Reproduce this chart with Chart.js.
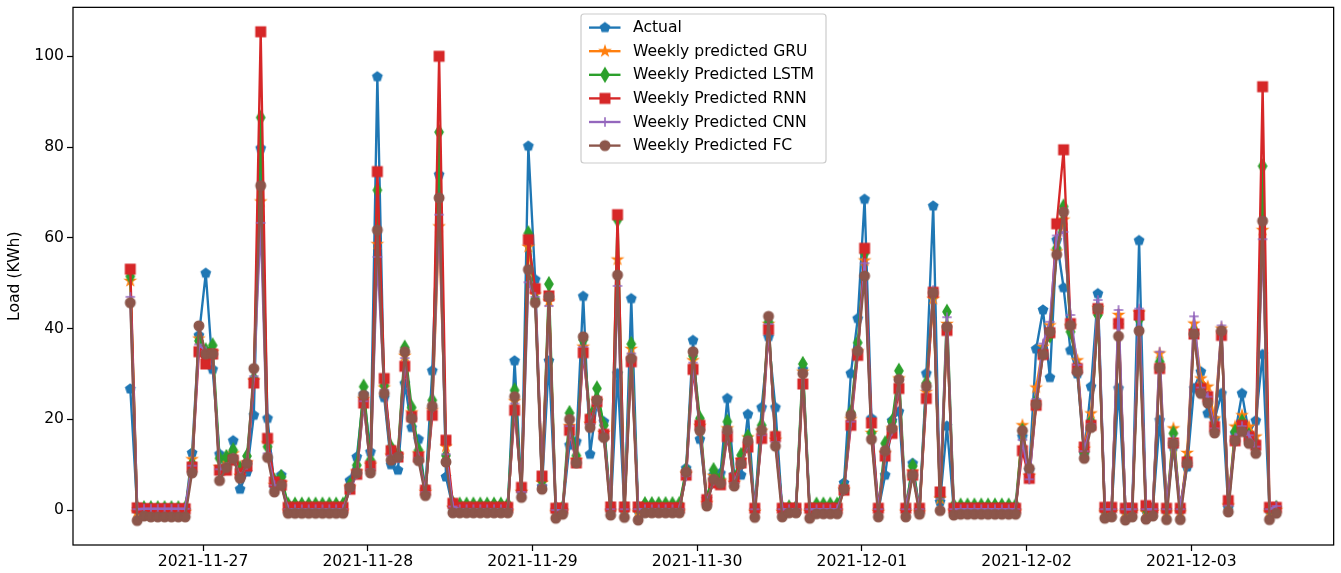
<!DOCTYPE html>
<html>
<head>
<meta charset="utf-8">
<script src="https://cdn.jsdelivr.net/npm/chart.js@4.4.1/dist/chart.umd.min.js"></script>
<style>
html,body{margin:0;padding:0;background:#ffffff;}
#wrap{width:1341px;height:573px;}
</style>
</head>
<body>
<div id="wrap"><canvas id="c" width="1341" height="573"></canvas></div>
<script>
// ---- data (hourly samples) ----
const firstHour = -10.6; // first sample, in hours after 2021-11-27 00:00
const seriesNames = ['Actual','Weekly predicted GRU','Weekly Predicted LSTM','Weekly Predicted RNN','Weekly Predicted CNN','Weekly Predicted FC'];
const tickHours = [0,24,48,72,96,120,144];
const tickLabels = ['2021-11-27','2021-11-28','2021-11-29','2021-11-30','2021-12-01','2021-12-02','2021-12-03'];
const yTicks = [0,20,40,60,80,100];
const yTitle = 'Load (KWh)';

const actual = [
26.7,0.2,0,0,0,0,0,0,0,12.6,
38.5,52.2,31.0,12.3,10.4,15.3,4.6,8.4,20.9,79.7,
20.2,5.0,7.7,0,0,0,0,0,0,0,
0,0,6.5,11.7,25.5,12.8,95.5,24.8,10.0,8.8,
27.9,18.2,15.6,4.5,30.7,73.9,7.3,0.5,0,0,
0,0,0,0,0,0,32.9,4.0,80.2,50.8,
5.2,32.9,0,0,14.3,15.1,47.1,12.3,24.0,19.5,
0,30.1,0,46.6,0,0,0,0,0,0,
0,9.2,37.4,15.6,2.5,7.7,8.1,24.6,7.7,7.7,
21.1,0,22.6,38.2,22.6,0,0,0,31.0,0,
0,0,0,0,6.0,30.1,42.2,68.5,20.2,0,
7.7,19.7,21.7,0,10.3,0,30.1,67.0,1.8,18.5,
0,0,0,0,0,0,0,0,0,0,
16.2,8.8,35.5,44.1,29.2,59.5,49.0,35.2,30.0,12.5,
27.2,47.7,0,0,26.8,0,0,59.4,0,0,
19.8,0,13.9,0,9.5,26.8,30.5,21.3,20.0,25.7,
0.5,16.9,25.7,16.9,19.7,34.3,0,0.5];

const gru = [
50.5,-0.5,-0.4,-0.4,-0.4,-0.4,-0.4,-0.4,-0.4,11.2,
37.8,34.0,34.8,9.5,10.5,12.5,7.5,10.5,28.5,68.0,
14.7,5.5,6.0,-0.3,-0.3,-0.3,-0.3,-0.3,-0.3,-0.3,
-0.3,-0.3,5.0,8.5,24.5,10.0,58.6,27.0,12.0,12.0,
34.0,21.5,12.5,4.0,22.0,62.5,14.0,0.5,-0.3,-0.3,
-0.3,-0.3,-0.3,-0.3,-0.3,-0.3,24.0,4.0,58.0,47.5,
6.0,46.0,-0.5,-0.3,18.5,11.0,36.0,19.0,24.0,17.0,
-0.3,55.2,-0.3,35.5,-0.5,-0.3,-0.3,-0.3,-0.3,-0.3,
-0.3,8.0,33.0,18.5,1.5,7.5,6.5,18.0,6.0,11.0,
16.0,-0.4,17.5,41.0,15.5,-0.4,-0.3,-0.3,30.5,-0.4,
-0.3,-0.3,-0.3,-0.3,4.5,20.0,35.0,55.0,17.0,-0.4,
12.5,18.0,29.0,-0.4,8.5,-0.5,26.0,46.5,2.5,41.0,
-0.3,-0.3,-0.3,-0.3,-0.3,-0.3,-0.3,-0.3,-0.3,-0.3,
18.7,7.5,27.0,36.0,40.7,57.0,64.0,40.5,33.0,13.5,
21.3,44.5,-0.5,-0.4,43.0,-0.5,-0.4,43.5,-0.5,-0.4,
34.5,-0.5,18.0,-0.5,12.6,41.1,29.0,27.2,20.2,40.0,
1.0,18.4,20.9,18.4,16.2,61.7,-0.5,0.0];

const lstm = [
51.5,0.5,0.4,0.4,0.4,0.4,0.4,0.4,0.4,10.2,
37.3,35.2,36.3,11.4,11.7,13.2,9.2,11.9,29.0,86.5,
14.0,6.5,7.3,1.2,1.2,1.2,1.2,1.2,1.2,1.2,
1.2,1.2,5.5,9.9,27.2,11.0,70.5,27.5,13.8,12.5,
35.8,22.6,13.2,4.8,24.2,83.3,12.0,1.5,1.2,1.2,
1.2,1.2,1.2,1.2,1.2,1.2,26.4,4.5,61.0,46.5,
6.5,49.8,0.5,0.5,21.4,12.0,37.5,20.6,26.8,18.7,
0.8,64.0,0.8,36.6,0.5,1.3,1.3,1.3,1.3,1.3,
1.3,8.8,34.0,20.2,2.5,8.8,7.0,19.5,7.0,12.1,
16.2,0.5,18.7,41.5,16.5,0.5,0.6,0.6,32.2,0.5,
1.2,1.2,1.2,1.2,5.0,21.5,36.9,56.6,17.0,0.5,
14.7,19.5,30.7,0.5,9.7,0.3,28.0,47.5,3.0,43.7,
1.0,1.0,1.0,1.0,1.0,1.0,1.0,1.0,1.0,1.0,
17.5,7.5,24.0,35.0,38.5,57.7,66.9,39.3,31.5,12.5,
19.5,43.0,0.3,0.3,41.0,0.3,0.3,42.0,0.3,0.3,
32.7,0.3,16.9,0.3,11.0,39.5,27.0,24.5,18.5,39.0,
1.5,17.3,19.5,16.5,14.5,75.8,0.3,0.5];

const rnn = [
53.1,0.5,0.3,0.3,0.3,0.3,0.3,0.3,0.3,9.5,
34.9,32.2,34.4,8.8,8.8,11.0,8.1,9.7,28.0,105.4,
15.8,6.2,5.5,0.6,0.6,0.6,0.6,0.6,0.6,0.6,
0.6,0.6,4.6,7.9,23.6,9.7,74.6,29.0,13.1,11.7,
31.7,20.6,11.7,4.4,20.9,100.0,15.4,1.5,0.6,0.6,
0.6,0.6,0.6,0.6,0.6,0.6,22.0,5.0,59.6,48.8,
7.5,47.2,0.4,0.4,17.6,10.4,34.7,20.0,23.9,16.7,
0.7,65.1,0.7,32.7,0.7,0.5,0.5,0.5,0.5,0.5,
0.5,7.7,31.0,18.7,2.3,6.0,5.6,16.2,7.0,10.4,
13.9,0.4,15.8,39.8,16.2,0.4,0.4,0.4,27.8,0.4,
0.4,0.4,0.4,0.4,4.4,18.7,34.1,57.7,19.2,0.4,
11.9,16.9,26.8,0.4,7.7,0.4,24.6,48.0,4.0,39.6,
0.4,0.4,0.4,0.4,0.4,0.4,0.4,0.4,0.4,0.4,
13.1,7.0,23.1,34.3,39.1,63.1,79.4,41.1,31.2,13.9,
18.7,44.4,0.6,0.6,41.1,0.4,0.4,43.0,1.0,0.4,
31.2,0.4,14.8,0.4,10.6,38.8,26.8,25.0,18.4,38.5,
2.1,15.3,18.7,16.2,14.3,93.3,0.6,0.6];

const cnn = [
47.0,0.2,0.3,0.3,0.3,0.3,0.3,0.3,0.3,9.8,
36.5,35.0,34.5,9.0,9.5,11.5,7.3,10.0,29.5,63.3,
12.5,5.5,5.5,0.2,0.2,0.2,0.2,0.2,0.2,0.2,
0.2,0.2,4.5,8.0,24.0,9.0,55.8,26.5,12.0,11.5,
33.5,20.5,11.5,4.0,22.5,65.1,12.3,0.8,0.2,0.2,
0.2,0.2,0.2,0.2,0.2,0.2,23.5,4.0,50.2,47.0,
5.5,45.0,0.0,0.0,18.5,10.5,36.0,19.0,23.5,16.5,
0.2,49.4,0.2,34.5,0.2,0.2,0.2,0.2,0.2,0.2,
0.2,7.5,32.5,18.0,1.5,6.5,6.0,17.0,6.0,10.0,
15.0,0.2,16.5,41.0,15.0,0.2,0.2,0.2,30.0,0.2,
0.2,0.2,0.2,0.2,4.5,19.5,35.0,54.4,16.0,0.2,
12.5,17.5,28.5,0.2,8.0,0.2,26.5,48.5,2.5,42.5,
0.2,0.2,0.2,0.2,0.2,0.2,0.2,0.2,0.2,0.2,
15.5,6.8,24.5,36.7,41.5,60.5,61.3,43.0,32.0,13.0,
19.0,46.3,0.2,0.2,44.1,0.2,0.2,44.4,0.2,0.2,
34.9,0.2,15.5,0.2,10.5,42.7,27.0,25.0,18.0,40.7,
1.0,16.0,18.5,16.5,14.0,59.7,0.2,0.9];

const fc = [
45.7,-2.3,-1.3,-1.5,-1.5,-1.5,-1.5,-1.5,-1.5,8.2,
40.6,34.4,34.4,6.5,9.4,11.4,7.0,10.3,31.2,71.5,
11.6,4.0,5.5,-0.7,-0.7,-0.7,-0.7,-0.7,-0.7,-0.7,
-0.7,-0.7,5.0,8.2,25.3,8.2,61.7,25.7,11.0,11.7,
34.9,20.2,10.9,3.2,22.9,68.8,10.6,-0.6,-0.6,-0.6,
-0.6,-0.6,-0.6,-0.6,-0.6,-0.6,25.0,2.8,53.0,45.7,
4.6,47.0,-1.8,-0.9,20.0,10.4,38.2,18.2,24.2,16.0,
-1.1,51.8,-1.6,33.4,-2.2,-0.6,-0.6,-0.6,-0.6,-0.6,
-0.6,8.4,34.9,17.5,0.9,6.8,5.9,17.6,5.3,10.2,
15.3,-1.6,17.6,42.7,14.1,-1.5,-0.6,-0.6,30.1,-1.8,
-0.8,-0.8,-0.8,-0.8,4.6,20.9,35.1,51.6,15.6,-1.5,
13.1,18.0,28.8,-1.5,7.7,-0.9,27.3,47.9,-0.1,40.4,
-1.1,-0.9,-0.9,-0.9,-0.9,-0.9,-0.9,-0.9,-0.9,-0.9,
17.5,9.2,23.3,34.3,39.3,56.3,65.7,40.7,30.5,11.4,
18.2,44.4,-1.8,-1.5,38.3,-2.2,-1.5,39.5,-2.0,-1.3,
31.4,-2.1,14.7,-2.1,10.3,38.8,25.7,23.6,17.0,39.5,
-0.4,15.3,17.3,14.7,12.5,63.7,-2.1,-0.7];

// ---- styling ----
const colors = ['#1f77b4','#ff7f0e','#2ca02c','#d62728','#9467bd','#8c564b'];
const markerKinds = ['pentagon','star','thindiamond','square','plus','circle'];
const FONT_FAMILY = '"DejaVu Sans", sans-serif';
const FONT_SIZE = 15.6;
const MS = 9.4;       // marker size (px)
const MEW = 1.57;     // marker edge width
const LW = 2.35;      // line width

function makeMarker(kind, color) {
  const s = 22, c = document.createElement('canvas');
  c.width = s; c.height = s;
  const g = c.getContext('2d');
  const cx = s / 2, cy = s / 2;
  g.fillStyle = color; g.strokeStyle = color; g.lineWidth = MEW; g.lineJoin = 'miter';
  g.beginPath();
  if (kind === 'pentagon') {
    const R = MS / 2;
    for (let k = 0; k < 5; k++) {
      const a = -Math.PI / 2 + k * 2 * Math.PI / 5;
      const px = cx + R * Math.cos(a), py = cy + R * Math.sin(a);
      k ? g.lineTo(px, py) : g.moveTo(px, py);
    }
    g.closePath(); g.fill(); g.stroke();
  } else if (kind === 'star') {
    const R = MS / 2, r = R * 0.381966;
    for (let k = 0; k < 10; k++) {
      const a = -Math.PI / 2 + k * Math.PI / 5;
      const rr = k % 2 ? r : R;
      const px = cx + rr * Math.cos(a), py = cy + rr * Math.sin(a);
      k ? g.lineTo(px, py) : g.moveTo(px, py);
    }
    g.closePath(); g.fill(); g.stroke();
  } else if (kind === 'thindiamond') {
    const h = MS * Math.SQRT1_2, w = h * 0.6;
    g.moveTo(cx, cy - h); g.lineTo(cx + w, cy); g.lineTo(cx, cy + h); g.lineTo(cx - w, cy);
    g.closePath(); g.fill(); g.stroke();
  } else if (kind === 'square') {
    g.rect(cx - MS / 2, cy - MS / 2, MS, MS);
    g.fill(); g.stroke();
  } else if (kind === 'plus') {
    g.moveTo(cx - MS / 2, cy); g.lineTo(cx + MS / 2, cy);
    g.moveTo(cx, cy - MS / 2); g.lineTo(cx, cy + MS / 2);
    g.lineCap = 'butt'; g.stroke();
  } else {
    g.arc(cx, cy, MS / 2, 0, Math.PI * 2);
    g.fill(); g.stroke();
  }
  return c;
}
const markers = markerKinds.map((k, i) => makeMarker(k, colors[i]));

const allSeries = [actual, gru, lstm, rnn, cnn, fc];
const n = actual.length;
const xMin = firstHour - 0.05 * (n - 1);
const xMax = firstHour + (n - 1) * 1.05;
const allVals = allSeries.flat();
const vMin = Math.min(...allVals), vMax = Math.max(...allVals);
const yMin = vMin - 0.05 * (vMax - vMin), yMax = vMax + 0.05 * (vMax - vMin);

const datasets = allSeries.map((vals, s) => ({
  label: seriesNames[s],
  data: vals.map((v, i) => ({ x: firstHour + i, y: v })),
  borderColor: colors[s],
  backgroundColor: colors[s],
  borderWidth: LW,
  borderJoinStyle: 'round',
  borderCapStyle: 'butt',
  pointStyle: markers[s],
  pointRadius: 5,
  pointHoverRadius: 5,
  tension: 0,
  fill: false,
  order: allSeries.length - s
}));

const framePlugin = {
  id: 'frame',
  afterDraw(chart) {
    const { ctx, chartArea: a } = chart;
    ctx.save();
    ctx.strokeStyle = '#000'; ctx.lineWidth = 1.25;
    ctx.strokeRect(a.left, a.top, a.right - a.left, a.bottom - a.top);
    // legend
    const lx = 581, ly = 14, lw = 245, lh = 149, rad = 3;
    ctx.beginPath();
    ctx.moveTo(lx + rad, ly);
    ctx.arcTo(lx + lw, ly, lx + lw, ly + lh, rad);
    ctx.arcTo(lx + lw, ly + lh, lx, ly + lh, rad);
    ctx.arcTo(lx, ly + lh, lx, ly, rad);
    ctx.arcTo(lx, ly, lx + lw, ly, rad);
    ctx.closePath();
    ctx.fillStyle = 'rgba(255,255,255,0.8)'; ctx.fill();
    ctx.strokeStyle = '#cccccc'; ctx.lineWidth = 1.2; ctx.stroke();
    ctx.font = FONT_SIZE + 'px ' + FONT_FAMILY;
    ctx.textBaseline = 'middle'; ctx.textAlign = 'left';
    for (let s = 0; s < seriesNames.length; s++) {
      const yy = 27.6 + s * 23.6;
      ctx.beginPath();
      ctx.strokeStyle = colors[s]; ctx.lineWidth = LW;
      ctx.moveTo(589, yy); ctx.lineTo(620.5, yy); ctx.stroke();
      const m = markers[s];
      ctx.drawImage(m, 605 - m.width / 2, yy - m.height / 2);
      ctx.fillStyle = '#000';
      ctx.fillText(seriesNames[s], 633, yy + 0.5);
    }
    ctx.restore();
  }
};

Chart.defaults.font.family = FONT_FAMILY;
Chart.defaults.font.size = FONT_SIZE;
Chart.defaults.color = '#000';

new Chart(document.getElementById('c'), {
  type: 'line',
  data: { datasets },
  options: {
    responsive: false,
    animation: false,
    devicePixelRatio: 1,
    events: [],
    layout: { padding: { left: 0, top: 7, right: 7, bottom: 0 } },
    plugins: { legend: { display: false }, tooltip: { enabled: false } },
    scales: {
      x: {
        type: 'linear',
        min: xMin, max: xMax,
        afterBuildTicks: (axis) => { axis.ticks = tickHours.map(v => ({ value: v })); },
        afterFit: (axis) => { axis.height = 28; axis.paddingLeft = 0; axis.paddingRight = 0; },
        ticks: {
          autoSkip: false, maxRotation: 0, minRotation: 0, padding: 2, color: '#000',
          callback: (v) => { const k = tickHours.indexOf(v); return k >= 0 ? tickLabels[k] : ''; }
        },
        grid: { display: true, drawOnChartArea: false, drawTicks: true, tickLength: 6, tickWidth: 1.25, tickColor: '#000', color: '#000' },
        border: { display: false }
      },
      y: {
        type: 'linear',
        min: yMin, max: yMax,
        afterBuildTicks: (axis) => { axis.ticks = yTicks.map(v => ({ value: v })); },
        afterFit: (axis) => { axis.width = 73; axis.paddingTop = 0; axis.paddingBottom = 0; },
        ticks: { padding: 3, color: '#000', callback: (v) => String(v) },
        grid: { display: true, drawOnChartArea: false, drawTicks: true, tickLength: 6, tickWidth: 1.25, tickColor: '#000', color: '#000' },
        border: { display: false },
        title: { display: true, text: yTitle, color: '#000', padding: { top: 6, bottom: 0 }, font: { size: FONT_SIZE } }
      }
    }
  },
  plugins: [framePlugin]
});
</script>
</body>
</html>
